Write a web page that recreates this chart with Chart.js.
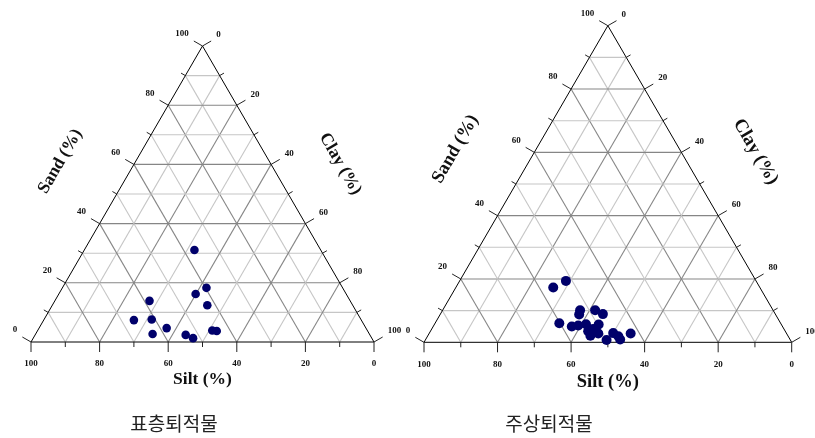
<!DOCTYPE html>
<html>
<head>
<meta charset="utf-8">
<script src="https://cdn.jsdelivr.net/npm/chart.js@4"></script>
<style>
  body { margin: 0; width: 815px; height: 438px; background: #fff; position: relative; overflow: hidden; }
  canvas { position: absolute; top: 0; }
  .cap { position: absolute; font-family: "Noto Sans CJK KR"; font-size: 19px; color: #222;
         transform: translateX(-50%); white-space: nowrap; }
</style>
</head>
<body>
<canvas id="surface" width="410" height="438" style="left:0;width:410px;height:438px"></canvas>
<canvas id="core" width="420" height="438" style="left:395px;width:420px;height:438px"></canvas>
<div class="cap" style="left:174px;top:409px">표층퇴적물</div>
<div class="cap" style="left:549px;top:409px">주상퇴적물</div>
<script>
// surface sediments (%)
const surfaceSand = [31.1, 18.3, 16.2, 12.4, 13.9, 7.4, 7.6, 4.7, 2.7, 2.4, 1.3, 3.9, 3.7];
const surfaceSilt = [36.8, 39.7, 43.9, 42.4, 58.5, 66.3, 61.0, 58.1, 63.2, 53.7, 52.1, 45.2, 44.0];
const surfaceClay = [32.1, 42.0, 39.9, 45.2, 27.6, 26.3, 31.4, 37.2, 34.1, 43.9, 46.6, 50.9, 52.3];

// core sediments (%)
const coreSand = [17.3, 19.4, 10.1, 8.8, 10.1, 8.9, 6.0, 5.0, 5.3, 5.7, 5.6, 3.5, 2.1, 2.8, 0.7, 2.9, 1.9, 0.9, 2.8, 4.2];
const coreSilt = [56.2, 51.7, 52.5, 53.4, 48.4, 46.9, 60.2, 57.3, 55.4, 53.1, 49.7, 53.6, 53.7, 51.2, 50.0, 47.1, 46.2, 46.2, 42.4, 51.9];
const coreClay = [26.5, 28.9, 37.4, 37.8, 41.5, 44.2, 33.8, 37.7, 39.3, 41.2, 44.7, 42.9, 44.2, 46.0, 49.3, 50.0, 51.9, 52.9, 54.8, 43.9];

const tickSteps = [0, 10, 20, 30, 40, 50, 60, 70, 80, 90, 100];
const tickLabels = [0, 20, 40, 60, 80, 100];
const gridSteps = [10, 20, 30, 40, 50, 60, 70, 80, 90];
const axisNames = { sand: 'Sand (%)', silt: 'Silt (%)', clay: 'Clay (%)' };

const SQ = Math.sqrt(3) / 2;

// ternary -> cartesian (base 0..100, height 0..86.6)
function toPoints(sand, silt, clay) {
  return sand.map((s, i) => {
    const t = s + silt[i] + clay[i];
    const a = s / t * 100, c = clay[i] / t * 100;
    return { x: c + a / 2, y: a * SQ };
  });
}

function ternaryFrame(o) {
  const pos = (chart, sand, clay) => [
    chart.scales.x.getPixelForValue(clay + sand / 2),
    chart.scales.y.getPixelForValue(sand * SQ)
  ];
  const nL = [-SQ, -0.5], nR = [SQ, -0.5], nB = [0, 1];
  return {
    id: 'ternaryFrame',
    beforeDatasetsDraw(chart) {
      const ctx = chart.ctx;
      const P = (s, c) => pos(chart, s, c);
      const seg = (a, b) => { ctx.beginPath(); ctx.moveTo(a[0], a[1]); ctx.lineTo(b[0], b[1]); ctx.stroke(); };
      ctx.save();
      ctx.lineWidth = 1.1;
      gridSteps.forEach(v => {
        ctx.strokeStyle = v % 20 === 0 ? '#868686' : '#c6c6c6';
        seg(P(v, 0), P(v, 100 - v));
        seg(P(0, v), P(100 - v, v));
        seg(P(0, 100 - v), P(100 - v, 0));
      });
      ctx.lineWidth = 1;
      ctx.strokeStyle = '#000';
      ctx.beginPath();
      const A = P(100, 0), B = P(0, 0), C = P(0, 100);
      ctx.moveTo(A[0], A[1]); ctx.lineTo(B[0], B[1]); ctx.lineTo(C[0], C[1]); ctx.closePath();
      ctx.stroke();
      ctx.strokeStyle = '#222';
      tickSteps.forEach(v => {
        const len = v % 20 === 0 ? 10 : 5;
        [[P(v, 0), nL], [P(100 - v, v), nR], [P(0, 100 - v), nB]].forEach(([p, n]) => {
          seg(p, [p[0] + n[0] * len, p[1] + n[1] * len]);
        });
      });
      ctx.restore();
    },
    afterDatasetsDraw(chart) {
      const ctx = chart.ctx;
      const P = (s, c) => pos(chart, s, c);
      ctx.save();
      ctx.fillStyle = '#111';
      ctx.font = 'bold ' + o.tickSize + 'px "Liberation Serif"';
      ctx.textBaseline = 'middle';
      tickLabels.forEach(v => {
        let p = P(v, 0);
        ctx.textAlign = 'right';
        ctx.fillText(String(v), p[0] + nL[0] * 10 - 5, p[1] + nL[1] * 10 - 7);
        p = P(100 - v, v);
        ctx.textAlign = 'left';
        ctx.fillText(String(v), p[0] + nR[0] * 10 + 5, p[1] + nR[1] * 10 - 6);
        p = P(0, 100 - v);
        ctx.textAlign = 'center';
        ctx.fillText(String(v), p[0], p[1] + 22);
      });
      // axis titles
      const A = P(100, 0), B = P(0, 0), C = P(0, 100);
      const W = C[0] - B[0];
      ctx.font = 'bold ' + o.titleSize + 'px "Liberation Serif"';
      ctx.textAlign = 'center';
      const title = (text, mid, n, d, ang) => {
        ctx.save();
        ctx.translate(mid[0] + n[0] * d, mid[1] + n[1] * d);
        ctx.rotate(ang);
        ctx.fillText(text, 0, 0);
        ctx.restore();
      };
      title(axisNames.sand, [(A[0] + B[0]) / 2, (A[1] + B[1]) / 2], nL, 0.19 * W, -Math.PI / 3);
      title(axisNames.clay, [(A[0] + C[0]) / 2, (A[1] + C[1]) / 2], nR, 0.175 * W, Math.PI / 3);
      title(axisNames.silt, [(B[0] + C[0]) / 2, B[1]], nB, 0.108 * W, 0);
      ctx.restore();
    }
  };
}

function makeChart(id, sand, silt, clay, pad, radius, titleSize) {
  return new Chart(document.getElementById(id), {
    type: 'scatter',
    data: {
      datasets: [{
        data: toPoints(sand, silt, clay),
        backgroundColor: '#00006b',
        borderColor: '#00006b',
        borderWidth: 0,
        pointRadius: radius,
        clip: false
      }]
    },
    options: {
      responsive: false,
      animation: false,
      devicePixelRatio: 1,
      layout: { padding: pad },
      scales: {
        x: { type: 'linear', min: 0, max: 100, display: false },
        y: { type: 'linear', min: 0, max: 100 * SQ, display: false }
      },
      plugins: { legend: { display: false }, tooltip: { enabled: false } }
    },
    plugins: [ternaryFrame({ tickSize: 9, titleSize: titleSize })]
  });
}

makeChart('surface', surfaceSand, surfaceSilt, surfaceClay,
  { left: 31, right: 36, top: 46, bottom: 96 }, 4.3, 17.5);
makeChart('core', coreSand, coreSilt, coreClay,
  { left: 29, right: 23.3, top: 25.7, bottom: 95.7 }, 5, 18.5);
</script>
</body>
</html>
